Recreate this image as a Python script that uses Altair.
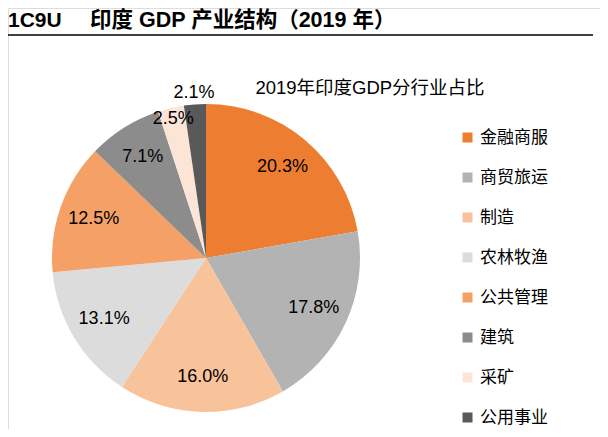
import altair as alt
import pandas as pd

categories = ["金融商服", "商贸旅运", "制造", "农林牧渔", "公共管理", "建筑", "采矿", "公用事业"]
shares = [20.3, 17.8, 16.0, 13.1, 12.5, 7.1, 2.5, 2.1]
colors = ["#ED7D31", "#B3B3B3", "#F8C29B", "#DCDCDC", "#F4A066", "#8C8C8C", "#FCE4D6", "#595959"]
title_code = "1C9U"
title_text = "印度 GDP 产业结构（2019 年）"
subtitle_text = "2019年印度GDP分行业占比"

df = pd.DataFrame({
    "cat": categories,
    "share": shares,
    "idx": list(range(len(categories))),
    "label": [f"{v:.1f}%" for v in shares],
})
one = pd.DataFrame({"a": [0]})

FONT = "Liberation Sans, Noto Sans CJK SC"
CX, CY, R = 198, 250, 154

base = alt.Chart(df).encode(
    theta=alt.Theta("share:Q", stack=True),
    order=alt.Order("idx:Q"),
)

pie = base.mark_arc(outerRadius=R, stroke=None).encode(
    color=alt.Color(
        "cat:N",
        scale=alt.Scale(domain=categories, range=colors),
        sort=categories,
        legend=alt.Legend(
            title=None,
            orient="none",
            legendX=451,
            legendY=121,
            symbolType="square",
            symbolSize=100,
            symbolStrokeWidth=0,
            labelFontSize=17,
            labelFont=FONT,
            labelColor="#000000",
            rowPadding=22,
            labelOffset=4,
        ),
    ),
    x=alt.value(CX),
    y=alt.value(CY),
)

small = ["采矿", "公用事业"]

def label_layer(radius, cats, exclude=False):
    if exclude:
        test = "indexof(" + str(cats) + ", datum.cat) < 0"
    else:
        test = "indexof(" + str(cats) + ", datum.cat) >= 0"
    return base.mark_text(radius=radius, fontSize=18, font=FONT, color="#000000").encode(
        text=alt.condition(test, "label:N", alt.value("")),
        x=alt.value(CX),
        y=alt.value(CY),
    )

labels_main = label_layer(119, small, exclude=True)
labels_25 = label_layer(143, ["采矿"])
labels_21 = label_layer(165, ["公用事业"])

title1 = alt.Chart(one).mark_text(
    text=title_code, fontSize=21, fontWeight="bold", font=FONT, align="left", baseline="alphabetic", color="#000000"
).encode(x=alt.value(0), y=alt.value(19))

title2 = alt.Chart(one).mark_text(
    text=title_text, fontSize=21.5, fontWeight="bold", font=FONT, align="left",
    baseline="alphabetic", color="#000000"
).encode(x=alt.value(82), y=alt.value(19))

rule = alt.Chart(one).mark_rule(color="#000000", strokeWidth=1.5).encode(
    x=alt.value(0), x2=alt.value(585), y=alt.value(27)
)

subtitle = alt.Chart(one).mark_text(
    text=subtitle_text, fontSize=18.5, fontWeight="normal", font=FONT, align="center", baseline="middle", color="#000000"
).encode(x=alt.value(362), y=alt.value(80))

chart = alt.layer(pie, labels_main, labels_25, labels_21, title1, title2, rule, subtitle).properties(
    width=592, height=421, autosize=alt.AutoSizeParams(type="none"), padding=0
).configure_view(stroke=None).configure(background="white")

chart.save("out.html", embed_options={"renderer": "svg", "actions": False})
